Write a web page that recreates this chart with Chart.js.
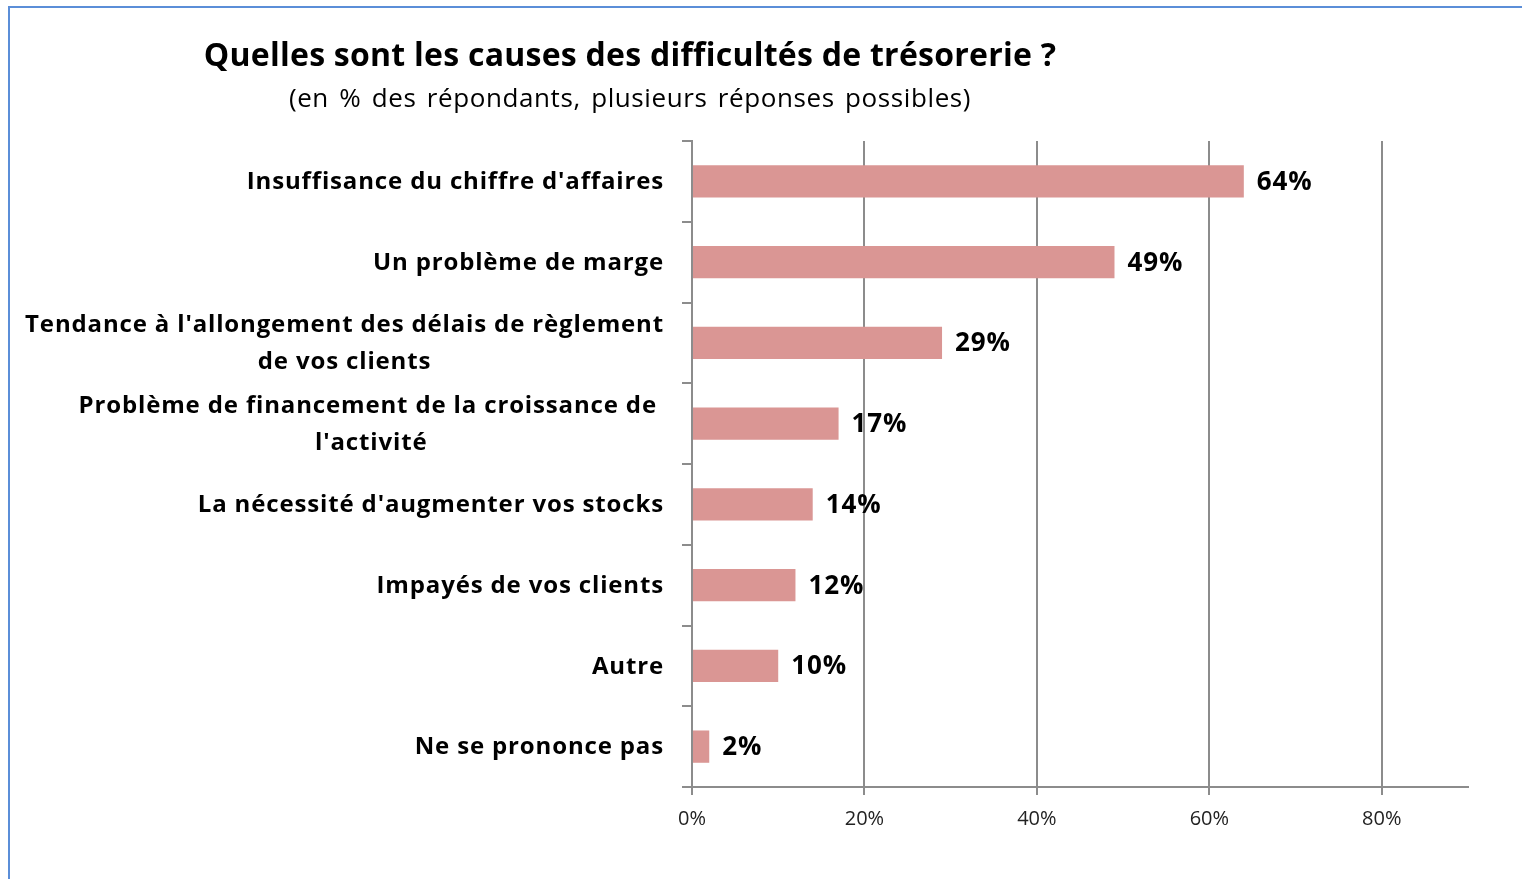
<!DOCTYPE html>
<html lang="fr">
<head>
<meta charset="utf-8">
<title>Causes des difficultés de trésorerie</title>
<script src="https://cdn.jsdelivr.net/npm/chart.js@4.4.1/dist/chart.umd.min.js"></script>
<style>
    html, body { margin: 0; padding: 0; background: #fff; overflow: hidden; }
    body { width: 1522px; height: 879px; position: relative; font-family: "Open Sans", Lato, sans-serif; }
    #frame {
        position: absolute; left: 8px; top: 6px; width: 1600px; height: 1000px;
        border-left: 2px solid #5b8ed8; border-top: 2px solid #5b8ed8;
    }
    #myChart { position: absolute; left: 0; top: 0; }
    .title {
        position: absolute; left: 630px; transform: translateX(-50%);
        white-space: nowrap; color: #000; line-height: 1;
    }
    #t1 { top: 38px; font-size: 32px; font-weight: bold; letter-spacing: 0.25px; }
    #t2 { top: 84px; font-size: 26px; font-weight: normal; letter-spacing: 0.6px; word-spacing: 3px; }
</style>
</head>
<body>
<div id="frame"></div>
<canvas id="myChart" width="1522" height="879"></canvas>
<div class="title" id="t1">Quelles sont les causes des difficultés de trésorerie ?</div>
<div class="title" id="t2">(en % des répondants, plusieurs réponses possibles)</div>
<script>
    // categories (top to bottom), multi-line labels as arrays
    const causes = [
        ["Insuffisance du chiffre d'affaires"],
        ["Un problème de marge"],
        ["Tendance à l'allongement des délais de règlement", "de vos clients"],
        ["Problème de financement de la croissance de ", "l'activité"],
        ["La nécessité d'augmenter vos stocks"],
        ["Impayés de vos clients"],
        ["Autre"],
        ["Ne se prononce pas"]
    ];
    const percents = [64, 49, 29, 17, 14, 12, 10, 2];
    const xTicks = [0, 20, 40, 60, 80];
    const xMax = 90;

    const gridGrey = "#8c8c8c";
    const fontFamily = "'Open Sans', Lato, sans-serif";

    // value labels at the end of each bar
    const barValues = {
        id: "barValues",
        afterDatasetsDraw(chart) {
            const ctx = chart.ctx;
            const meta = chart.getDatasetMeta(0);
            ctx.save();
            ctx.font = "bold 26px " + fontFamily;
            ctx.letterSpacing = "0.9px";
            ctx.fillStyle = "#000";
            ctx.textAlign = "left";
            ctx.textBaseline = "middle";
            meta.data.forEach((bar, i) => {
                ctx.fillText(percents[i] + "%", bar.x + 13, bar.y + 1);
            });
            ctx.restore();
        }
    };

    // category labels: block right-aligned, lines centred inside the block
    const categoryLabels = {
        id: "categoryLabels",
        afterDraw(chart) {
            const ctx = chart.ctx;
            const yScale = chart.scales.y;
            const rightEdge = yScale.right - 28;
            const lineH = 37;
            ctx.save();
            ctx.font = "bold 24px " + fontFamily;
            ctx.letterSpacing = "0.85px";
            ctx.fillStyle = "#000";
            ctx.textAlign = "left";
            ctx.textBaseline = "middle";
            causes.forEach((lines, i) => {
                const widths = lines.map(l => ctx.measureText(l).width);
                const widest = Math.max(...widths);
                const cx = rightEdge - widest / 2;
                const cy = yScale.getPixelForValue(i) + 1;
                const y0 = cy - (lines.length - 1) * lineH / 2;
                lines.forEach((l, k) => ctx.fillText(l, cx - widths[k] / 2, y0 + k * lineH));
            });
            ctx.restore();
        }
    };

    new Chart("myChart", {
        type: "bar",
        data: {
            labels: causes.map(c => c.join(" ")),
            datasets: [{
                data: percents,
                backgroundColor: "#da9694",
                borderWidth: 0,
                categoryPercentage: 1,
                barPercentage: 0.4
            }]
        },
        options: {
            indexAxis: "y",
            responsive: false,
            animation: false,
            layout: { padding: { top: 141, right: 54, bottom: 0, left: 0 } },
            plugins: {
                legend: { display: false },
                tooltip: { enabled: false }
            },
            scales: {
                x: {
                    min: 0,
                    max: xMax,
                    z: 1,
                    afterBuildTicks: scale => {
                        scale.ticks = xTicks.map(v => ({ value: v }));
                    },
                    afterFit: scale => { scale.height = 92; },
                    grid: {
                        color: gridGrey,
                        lineWidth: 2,
                        tickLength: 8
                    },
                    border: { color: gridGrey, width: 2 },
                    ticks: {
                        padding: 12,
                        color: "#222",
                        font: { family: fontFamily, size: 20 },
                        callback: value => value + "%"
                    }
                },
                y: {
                    z: 1,
                    afterFit: scale => { scale.width = 692; },
                    grid: {
                        drawOnChartArea: false,
                        drawTicks: true,
                        tickLength: 10,
                        color: gridGrey,
                        lineWidth: 2
                    },
                    border: { color: gridGrey, width: 2 },
                    ticks: { display: false }
                }
            }
        },
        plugins: [barValues, categoryLabels]
    });
</script>
</body>
</html>
